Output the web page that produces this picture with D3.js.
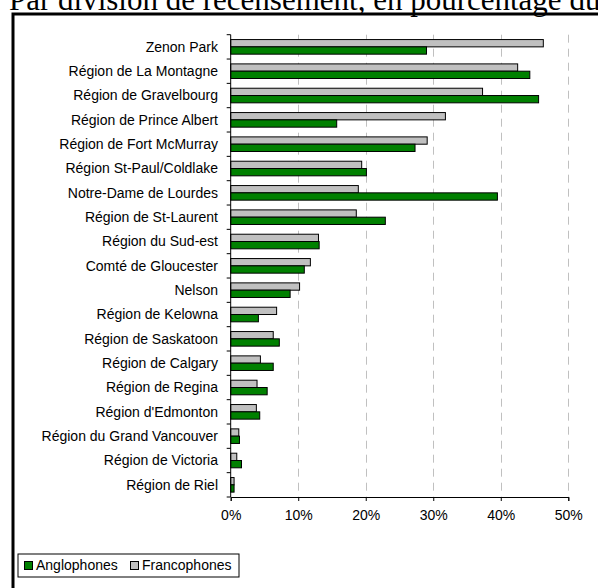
<!DOCTYPE html>
<html>
<head>
<meta charset="utf-8">
<script src="https://cdn.jsdelivr.net/npm/d3@7"></script>
<style>
  html, body { margin: 0; padding: 0; background: #fff; overflow: hidden; }
  svg { display: block; }
</style>
</head>
<body>
<script>
// Census divisions, top to bottom
const categories = [
  "Zenon Park", "Région de La Montagne", "Région de Gravelbourg",
  "Région de Prince Albert", "Région de Fort McMurray", "Région St-Paul/Coldlake",
  "Notre-Dame de Lourdes", "Région de St-Laurent", "Région du Sud-est",
  "Comté de Gloucester", "Nelson", "Région de Kelowna", "Région de Saskatoon",
  "Région de Calgary", "Région de Regina", "Région d'Edmonton",
  "Région du Grand Vancouver", "Région de Victoria", "Région de Riel"
];
// Percentages per census division
const francophones = [46.3, 42.5, 37.3, 31.8, 29.1, 19.4, 18.9, 18.6, 13.0, 11.8, 10.2, 6.8, 6.3, 4.4, 3.9, 3.8, 1.2, 0.9, 0.5];
const anglophones  = [29.0, 44.3, 45.6, 15.7, 27.3, 20.1, 39.5, 22.9, 13.1, 10.9, 8.8, 4.1, 7.2, 6.3, 5.4, 4.3, 1.3, 1.6, 0.5];
const xTicks = [0, 10, 20, 30, 40, 50];
const seriesNames = ["Francophones", "Anglophones"];
const legendNames = ["Anglophones", "Francophones"];
const titleText = "Par division de recensement, en pourcentage du";

const W = 598, H = 588;
const colors = { Anglophones: "#008000", Francophones: "#c0c0c0" };
const sans = "'Liberation Sans', Arial, sans-serif";

const svg = d3.select("body").append("svg").attr("width", W).attr("height", H);

// Title (runs off the top edge of the page)
svg.append("text")
  .attr("x", 9).attr("y", 9.5)
  .attr("font-family", "'Liberation Serif', 'Times New Roman', serif")
  .attr("font-size", 31)
  .text(titleText);

// Heavy frame around the chart area
svg.append("rect")
  .attr("x", 13).attr("y", 14)
  .attr("width", 800).attr("height", 800)
  .attr("fill", "none").attr("stroke", "#000").attr("stroke-width", 3);

const x = d3.scaleLinear().domain([0, 50]).range([230.7, 568.3]);
const y = d3.scaleBand().domain(categories).range([34.7, 497]).paddingInner(0.4).paddingOuter(0.2);
const sub = d3.scaleBand().domain(seriesNames).range([0, y.bandwidth()]);

const [yTop, yBot] = y.range();

// Dashed vertical gridlines
svg.append("g").selectAll("line")
  .data(xTicks.filter(d => d > 0))
  .join("line")
  .attr("x1", d => Math.round(x(d)) + 0.5).attr("x2", d => Math.round(x(d)) + 0.5)
  .attr("y1", yTop).attr("y2", yBot)
  .attr("stroke", "#c0c0c0").attr("stroke-width", 1)
  .attr("stroke-dasharray", "8,6");

// Bars
const rows = categories.map((c, i) => ({ c, Francophones: francophones[i], Anglophones: anglophones[i] }));
const groups = svg.append("g").selectAll("g")
  .data(rows)
  .join("g")
  .attr("transform", d => `translate(0,${y(d.c)})`);

groups.selectAll("rect")
  .data(d => seriesNames.map(k => ({ k, v: d[k] })))
  .join("rect")
  .attr("x", x(0))
  .attr("y", d => sub(d.k))
  .attr("width", d => x(d.v) - x(0))
  .attr("height", sub.bandwidth())
  .attr("fill", d => colors[d.k])
  .attr("stroke", "#000").attr("stroke-width", 1);

// Category axis: line with ticks between categories
const step = y.step();
const boundaries = categories.map(c => y(c) - (step - y.bandwidth()) / 2).concat([yBot]);
const yAxis = svg.append("g");
yAxis.append("line")
  .attr("x1", x(0)).attr("x2", x(0)).attr("y1", yTop).attr("y2", yBot)
  .attr("stroke", "#000");
yAxis.selectAll("line.tick")
  .data(boundaries)
  .join("line").attr("class", "tick")
  .attr("x1", x(0) - 4).attr("x2", x(0))
  .attr("y1", d => d).attr("y2", d => d)
  .attr("stroke", "#000");
yAxis.selectAll("text")
  .data(categories)
  .join("text")
  .attr("x", 218)
  .attr("y", c => y(c) + y.bandwidth() / 2)
  .attr("dy", "0.35em")
  .attr("text-anchor", "end")
  .attr("font-family", sans).attr("font-size", 14)
  .attr("fill", "#000")
  .text(c => c);

// Value axis
const xAxis = svg.append("g")
  .attr("transform", `translate(0,${yBot})`)
  .call(d3.axisBottom(x).tickValues(xTicks).tickFormat(d => d + "%").tickSize(4).tickPadding(9));
xAxis.select(".domain").attr("stroke", "#000");
xAxis.selectAll(".tick line").attr("stroke", "#000");
xAxis.selectAll("text").attr("font-family", sans).attr("font-size", 14).attr("fill", "#000");

// Legend
const lg = svg.append("g").attr("transform", "translate(18,554)");
lg.append("rect").attr("x", 0).attr("y", 0).attr("width", 221).attr("height", 23)
  .attr("fill", "#fff").attr("stroke", "#000").attr("stroke-width", 1);
const items = lg.selectAll("g.item")
  .data(legendNames)
  .join("g").attr("class", "item")
  .attr("transform", (d, i) => `translate(${i === 0 ? 6 : 112},0)`);
items.append("rect")
  .attr("x", 0.5).attr("y", 7.5).attr("width", 8).attr("height", 8)
  .attr("fill", d => colors[d]).attr("stroke", "#000");
items.append("text")
  .attr("x", 12).attr("y", 11.5).attr("dy", "0.35em")
  .attr("font-family", sans).attr("font-size", 14).attr("fill", "#000")
  .text(d => d);
</script>
</body>
</html>
